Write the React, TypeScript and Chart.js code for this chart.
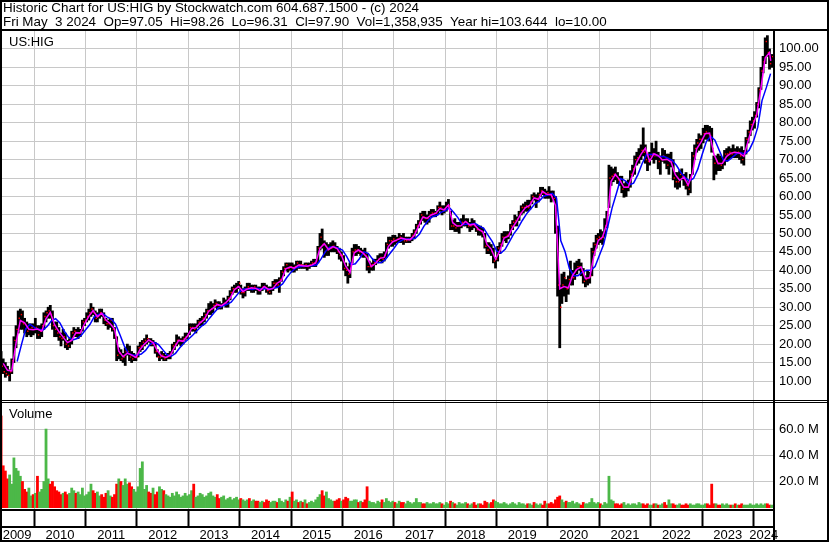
import React, { useEffect, useRef } from 'react';
import { Chart, registerables } from 'chart.js';

Chart.register(...registerables);

// ---------------- data ----------------
const seriesStart = 2009 + 4 / 12; // 1 May 2009
const axisEnd = 2024.4;
const lastDay = 2024.337; // Fri 3 May 2024

// half-month price ranges, May 2009 .. early May 2024
const halfMonthLow = [
  // 2009 May-Dec
  13, 12, 11, 11.5, 10, 12, 15, 19, 23, 24, 24, 23, 22, 22.5, 22, 22.5,
  // 2010
  23, 21.5, 21.5, 22, 24, 26, 27, 27, 24, 22, 22, 21, 19.5, 21, 19, 18.5, 19, 20, 22, 22, 21.5, 22, 23.5, 25,
  // 2011
  26, 26.5, 27.5, 28, 26, 26, 27, 27.5, 25.5, 25, 24, 24.5, 23.5, 21.5, 15.5, 16, 15.5, 15, 14.2, 17, 15.5, 15, 15.5, 15.5,
  // 2012
  16.5, 18, 18.5, 19.5, 20, 20.5, 19.5, 19.5, 17.5, 16.5, 15.5, 16, 15.5, 15.5, 16, 16, 17.5, 18.5, 19.5, 20, 19.5, 20, 21, 21.5,
  // 2013
  22.5, 23.5, 23.5, 23, 24.5, 25, 25, 26, 27, 28, 28, 28.5, 30, 29.5, 29.5, 29.5, 30.5, 30, 30, 32, 33.5, 34, 34, 35,
  // 2014
  33.5, 32.5, 33, 34.5, 34.5, 34, 34, 34.5, 33.5, 33.5, 34.5, 35, 34, 33.5, 33.5, 34.5, 35.5, 35.5, 34, 37, 38.5, 40, 39.5, 40,
  // 2015
  39.5, 39.5, 40, 40.5, 40.5, 40.5, 40.5, 40, 40.5, 41, 41, 41, 42, 45.5, 46, 43.5, 44, 44, 45, 45, 45, 44.5, 43, 42.5,
  // 2016
  40, 38.5, 36.5, 38, 42, 44, 44, 44.5, 44, 43.5, 43.5, 40, 39.3, 40, 40, 41.5, 42, 42.5, 42, 42.5, 43.5, 46, 46.5, 46.5,
  // 2017
  47, 47.5, 47.5, 47.5, 47, 47.5, 47.5, 47.5, 48, 48.5, 50, 51.5, 52.5, 53.5, 53, 52.5, 53, 54.5, 54.5, 54.5, 55, 56, 55, 55.5,
  // 2018
  56, 57, 51, 51, 50.5, 50.5, 50, 51.5, 52, 52, 51.5, 50.5, 51, 51.5, 50.5, 49.5, 49.5, 49, 46, 44.5, 44.5, 44, 42, 40.6,
  // 2019
  42.5, 44.5, 46.5, 48, 47.5, 48.5, 49.5, 51, 52, 52, 53.5, 55, 55.5, 56, 56, 56.5, 58, 59, 57, 58.5, 60, 60.5, 59.5, 59.5,
  // 2020
  59.5, 58.5, 59, 50, 33, 19, 31, 33, 31.5, 33.5, 36, 36, 37.5, 39, 40, 38.5, 36.5, 35.5, 36, 36.5, 38.5, 44, 46, 47,
  // 2021
  47.5, 47, 49, 51.5, 57, 63, 64, 64.5, 63.5, 63, 61, 59.8, 60, 61.5, 62.5, 65.5, 66, 68.5, 69, 70, 71, 69, 67, 68.5,
  // 2022
  70, 69, 70, 67.5, 66, 69.5, 69, 67.5, 66, 68, 64.5, 62.5, 62, 62.5, 64.5, 63, 62, 60.4, 61, 66, 70, 72, 72.5, 73,
  // 2023
  74.5, 75.5, 75.5, 75, 72, 64.5, 66, 67, 67, 67.5, 68.5, 69.5, 70, 70.5, 70.5, 70.5, 70.5, 70, 69, 68.5, 71.5, 74.5, 76.5, 78,
  // 2024 Jan-May
  78.5, 81.5, 84, 89, 93.5, 96, 98, 94.5, 95,
];

const halfMonthHigh = [
  // 2009 May-Dec
  18, 16, 15, 14, 13, 16, 22, 25, 29, 29.5, 29, 27, 26, 25.5, 25.5, 25.5,
  // 2010
  27, 25, 25, 25.5, 28.5, 29, 30, 30.5, 29, 26, 26, 24.5, 23, 24, 23, 21, 21.5, 23.5, 24.5, 24, 24.5, 24, 26.5, 27,
  // 2011
  28.5, 29.5, 31, 30, 29, 28.5, 29.5, 29.5, 28.5, 27, 26.5, 27, 27, 24.5, 22, 19, 18.5, 17.5, 19, 20, 19.5, 18, 17.5, 17,
  // 2012
  19.5, 20.5, 21, 21.5, 22.5, 21.5, 21.5, 21, 20.5, 18.5, 17.5, 18, 17.5, 17, 17.5, 18, 20, 20.5, 22.5, 22, 21.5, 22, 23, 23,
  // 2013
  25.5, 25.5, 25.5, 25.5, 26.5, 27, 27.5, 28.5, 29.5, 31, 31.5, 31, 32, 31.5, 31.5, 31, 32.5, 32, 33, 34.5, 35.5, 36, 36.5, 37,
  // 2014
  36, 35, 35.5, 36.5, 36.5, 36, 36, 36, 35.5, 35.5, 36.5, 36.5, 36, 35.5, 35.5, 37, 37.5, 37.5, 38, 40, 41, 42, 42, 42,
  // 2015
  42, 41.5, 42.5, 42.5, 42.5, 41.5, 42, 42, 42, 42.5, 43, 43, 46.5, 50, 51.2, 48, 47.5, 47, 47.5, 48, 47.5, 46.5, 46, 45,
  // 2016
  44, 42, 41, 42, 46, 47, 47, 46.5, 46, 45.5, 46, 44.5, 42.5, 42, 43, 43, 44, 44.5, 44.5, 45, 47.5, 49, 49, 49.5,
  // 2017
  49.5, 49, 50, 49.5, 50, 49, 49, 49, 50, 51, 52.5, 53.5, 55.5, 56, 56, 55, 56, 56.5, 56.5, 56, 57.5, 58.5, 57.5, 57.5,
  // 2018
  58.5, 59.2, 56, 53.5, 54, 53, 53, 54, 55, 54, 54, 53, 54, 53.5, 52.5, 52, 52, 51.5, 50, 47.5, 47.5, 47, 46, 43.5,
  // 2019
  46.5, 47.5, 50, 50.5, 50.5, 50.5, 52.5, 53.5, 55, 54.5, 56, 57.5, 58, 58.5, 59, 59, 60.5, 61, 60.5, 61, 62.5, 62.5, 62, 61.5,
  // 2020
  62.7, 61.5, 61.5, 60, 52, 36, 39, 39.5, 37.5, 38.5, 42.5, 40, 42, 42.5, 43, 42, 40.5, 38.5, 40, 39.5, 46, 47.5, 49.5, 50,
  // 2021
  51, 50.5, 54, 56, 68.5, 68, 67.5, 68, 66.5, 65.5, 65.5, 63.5, 64, 64.5, 67, 68.5, 71, 72, 73, 74, 78.6, 74, 71, 72,
  // 2022
  74.5, 73, 75, 72, 71, 73, 72.5, 71.5, 71.5, 72, 70, 66.5, 66.5, 67, 67.5, 66, 66.5, 64, 66, 72, 74, 75.5, 77, 76.5,
  // 2023
  78.5, 79.3, 79.3, 79, 78.5, 71, 71, 71.5, 71, 70.5, 72.5, 73, 73.5, 73, 74, 73, 73.5, 73, 73.5, 72.5, 76, 78, 80.5, 81.5,
  // 2024 Jan-May
  83, 85.5, 89.5, 95, 98, 103, 103.6, 100, 98.5,
];

// half-month closing prices (red close marks)
const halfMonthClose = [
  // 2009 May-Dec
  14, 12.5, 12, 11.5, 12.5, 15.5, 21, 24, 27, 28, 25.5, 24, 23.5, 24, 24.5, 24,
  // 2010
  24.5, 22.5, 23.5, 25, 27.5, 28.5, 29, 28, 25, 24, 23, 22, 21.5, 22, 20, 19.5, 21, 23, 23.5, 23, 23, 23.5, 26, 26.5,
  // 2011
  27.5, 28.5, 29.5, 28.5, 27, 27.5, 28.5, 28, 26.5, 25.5, 25.5, 26.5, 24, 22, 17, 17.5, 16, 16.5, 18, 18, 16.5, 16, 16.5, 16.5,
  // 2012
  19, 19.5, 20.5, 21, 21.5, 21, 20, 20, 18, 16.5, 16.5, 17, 16, 16.5, 17, 17.5, 19.5, 20, 21, 21, 21, 21.5, 22, 22.5,
  // 2013
  24.5, 24.5, 24, 25, 26, 26, 27, 28, 29, 29, 29.5, 30.5, 31, 30.5, 30, 30.5, 31, 31, 32.5, 34, 35, 35, 35.5, 36.5,
  // 2014
  34, 34, 35, 35.5, 35, 35, 35.5, 35, 34.5, 35, 35.5, 35, 34.5, 34, 35, 36.5, 36.5, 36, 37.5, 39.5, 40.5, 41.5, 40.5, 41,
  // 2015
  40.5, 41, 42, 41.5, 41.5, 41, 41.5, 41, 41.5, 42, 42, 42.5, 46, 49, 47, 45, 45.5, 46, 46, 46.5, 46, 45, 44, 44,
  // 2016
  40.5, 40, 39, 41.5, 45, 45.5, 45.5, 45, 45, 44.5, 44, 41, 41, 41.5, 42, 42.5, 43, 43.5, 43, 44, 47, 48, 48, 48.5,
  // 2017
  48, 48.5, 49, 48.5, 48, 48, 48.5, 48.5, 49.5, 50.5, 52, 53, 55, 54.5, 54, 54, 55, 55.5, 55.5, 55.5, 57, 57, 56, 56.5,
  // 2018
  57.5, 57.5, 52, 52, 51.5, 52, 52, 53, 53, 53, 52, 52, 52.5, 52, 51, 51, 50.5, 49.5, 46.5, 45.5, 46, 45, 42.5, 43,
  // 2019
  46, 47, 49, 49, 49.5, 50, 52, 53, 53.5, 54, 55.5, 57, 57, 57.5, 57, 58.5, 60, 59.5, 59.5, 60.5, 61.5, 61, 60.5, 61,
  // 2020
  60.5, 60, 59.5, 51, 36, 30, 36, 38, 35, 37.5, 38, 38, 40, 41, 41, 40, 37, 37.5, 38, 38.5, 45, 47, 48.5, 49,
  // 2021
  48.5, 49, 52, 55, 65, 65.5, 66, 65.5, 64.5, 64, 62, 62.5, 62.5, 63.5, 66, 67.5, 70, 70.5, 71, 72.5, 72, 70, 69.5, 71,
  // 2022
  71.5, 71, 71, 69.5, 70, 71, 70, 68.5, 69.5, 69.5, 65, 64, 64, 66, 65.5, 64.5, 63, 62, 65, 71, 73, 74.5, 75.5, 75.5,
  // 2023
  77, 77.5, 77, 76.5, 73, 69, 69.5, 69, 68.5, 69.5, 71.5, 71.5, 72, 71.5, 72, 71.5, 72, 71, 70, 71.5, 75.5, 77.5, 79.5, 80.5,
  // 2024 Jan-May
  82, 85, 89, 94, 96.5, 102, 99, 96, 97.9,
];

// half-month volume, millions of shares
const halfMonthVolumeM = [
  // 2009 May-Dec
  70, 32, 28, 22, 25, 18, 38, 30, 28, 24, 20, 14, 12, 15, 9, 10,
  // 2010
  11, 24, 12, 14, 20, 60, 22, 18, 20, 16, 13, 12, 10, 11, 12, 10, 11, 15, 13, 11, 12, 10, 15, 9,
  // 2011
  10, 12, 18, 13, 11, 12, 9, 10, 8, 11, 13, 9, 8, 10, 18, 22, 20, 17, 22, 18, 19, 16, 14, 12,
  // 2012
  16, 30, 35, 14, 17, 12, 11, 15, 10, 12, 16, 14, 13, 10, 9, 8, 11, 9, 12, 10, 8, 9, 11, 9,
  // 2013
  10, 13, 18, 8, 9, 11, 10, 8, 9, 11, 12, 9, 8, 10, 7, 8, 9, 6, 7, 8, 6, 7, 8, 6,
  // 2014
  7, 6, 5, 6, 7, 5, 6, 5, 5, 4, 5, 4, 6, 5, 4, 5, 5, 4, 7, 5, 4, 6, 5, 8,
  // 2015
  12, 5, 6, 4, 5, 4, 6, 3, 4, 5, 4, 6, 8, 10, 13, 9, 12, 7, 6, 5, 5, 6, 7, 5,
  // 2016
  6, 8, 7, 5, 5, 6, 6, 4, 5, 4, 6, 16, 5, 4, 4, 3, 5, 4, 6, 4, 7, 5, 4, 5,
  // 2017
  4, 3, 5, 4, 4, 3, 5, 4, 3, 4, 7, 4, 4, 3, 3, 4, 3, 3, 4, 3, 3, 4, 3, 2,
  // 2018
  4, 3, 5, 4, 3, 2, 4, 3, 3, 4, 3, 2, 3, 4, 2, 3, 3, 2, 5, 4, 3, 4, 6, 5,
  // 2019
  4, 3, 3, 4, 3, 2, 3, 4, 3, 2, 4, 3, 3, 2, 3, 3, 2, 4, 3, 2, 3, 2, 5, 3,
  // 2020
  3, 4, 3, 6, 8, 9, 6, 4, 5, 4, 4, 5, 3, 4, 3, 2, 4, 3, 3, 4, 7, 4, 3, 4,
  // 2021
  3, 2, 4, 3, 24, 6, 5, 3, 3, 2, 3, 4, 2, 3, 2, 3, 3, 2, 4, 3, 3, 2, 3, 2,
  // 2022
  2, 3, 3, 2, 2, 3, 4, 2, 6, 3, 3, 2, 2, 3, 2, 2, 3, 2, 3, 2, 2, 3, 3, 2,
  // 2023
  2, 3, 3, 2, 18, 3, 3, 2, 2, 3, 2, 3, 2, 2, 2, 3, 2, 2, 3, 2, 2, 2, 3, 2,
  // 2024 Jan-May
  2, 3, 2, 3, 2, 3, 3, 2, 2,
];

// magenta short moving average, one value per month (May 2009 .. May 2024)
const monthlyShortMA = [
  14.75, 12.9, 12.75, 20.25, 26.4, 25.75, 24, 23.9,
  24.1, 23.5, 26.9, 28.6, 25.25, 23.4, 21.9, 20.4, 21, 23.1, 23, 25.5,
  27.5, 29.1, 27.4, 28.4, 26.5, 25.5, 24.1, 18.1, 16.6, 17.55, 17, 16.4,
  18.6, 20, 21.1, 20.4, 18.25, 16.75, 16.4, 16.9, 19.1, 21, 20.75, 22.1,
  24.25, 24.4, 25.75, 26.75, 28.9, 29.75, 30.75, 30.4, 31.25, 32.4, 34.75, 35.6,
  34.25, 34.9, 35.25, 35.1, 34.5, 35.6, 34.75, 35.1, 36.5, 37.25, 40.4, 40.9,
  40.6, 41.4, 41.25, 41.1, 41.4, 42, 46, 47.2, 45.6, 46.4, 45.9, 44.1,
  41.1, 39.4, 44.75, 45.5, 44.75, 43.5, 41, 41.9, 43.25, 43.5, 46.5, 47.75,
  48.25, 48.75, 48.4, 48.25, 49.4, 51.9, 54.4, 54.1, 55, 55.4, 56.75, 56.4,
  57.7, 52.9, 52, 52.1, 53.25, 52.25, 52.5, 51.1, 50.5, 47, 45.75, 43,
  45.25, 48.75, 49.25, 51.6, 53.4, 55.5, 57, 57.6, 59.6, 59.25, 61.4, 60.6,
  60.5, 57.6, 35, 35.6, 35.25, 38.6, 40.25, 40.9, 37.75, 38, 44, 48.1,
  49, 52.6, 64.1, 66, 64.5, 62.5, 62.5, 65.9, 69.4, 71.5, 73.1, 69.6,
  71.6, 71.1, 69.9, 70.1, 69.4, 65.9, 64.4, 65.25, 63.1, 66.25, 72.9, 74.75,
  77, 77.2, 71.5, 68.9, 69, 70.9, 71.75, 72, 71.75, 70.9, 75, 79.1,
  82.1, 89.4, 97.6, 99, 96.75,
];

// blue long moving average, one value per month end (May 2009 .. Apr 2024)
const monthlyLongMA = [
  null, null, null, 15.3, 19.8, 24.1, 25.4, 24.55,
  24, 23.8, 24.8, 26.3, 26.9, 25.75, 23.5, 21.9, 21.1, 21.5, 22.4, 23.9,
  25.3, 27.4, 28, 28.3, 27.4, 26.8, 25.4, 22.6, 19.6, 17.4, 17.05, 17,
  17.3, 18.3, 19.9, 20.5, 19.9, 18.5, 17.1, 16.7, 17.5, 19, 20.3, 21.3,
  22.4, 23.6, 24.8, 25.6, 27.1, 28.5, 29.8, 30.3, 30.8, 31.35, 32.8, 34.25,
  34.9, 34.9, 34.8, 35.1, 34.95, 35.07, 34.95, 35.15, 35.45, 36.3, 38.05, 39.5,
  40.6, 40.97, 41.08, 41.25, 41.25, 41.5, 43.1, 45.07, 46.27, 46.4, 45.97, 45.47,
  43.7, 41.53, 41.75, 43.2, 45, 44.6, 43.1, 42.1, 42.05, 42.9, 44.4, 45.9,
  47.5, 48.25, 48.47, 48.47, 48.68, 49.85, 51.9, 53.47, 54.5, 54.83, 55.72, 56.18,
  56.95, 55.67, 54.2, 52.33, 52.45, 52.53, 52.67, 51.95, 51.37, 49.53, 47.75, 45.25,
  44.67, 45.67, 47.75, 49.87, 51.42, 53.5, 55.3, 56.7, 58.07, 58.82, 60.08, 60.42,
  60.83, 59.57, 48, 45, 40.5, 38.5, 38.5, 39.5, 40, 40, 41, 44,
  47, 52, 57, 60.9, 64.87, 64.33, 63.17, 63.63, 65.93, 68.93, 71.33, 71.4,
  71.43, 70.77, 70.87, 70.37, 69.8, 68.47, 66.57, 65.18, 64.25, 64.87, 67.42, 71.3,
  74.88, 76.32, 75.23, 72.53, 69.8, 69.6, 70.55, 71.55, 71.83, 71.55, 72.55, 75,
  78.73, 86, 89.5, 93.3,
];

const priceTicks = [10, 15, 20, 25, 30, 35, 40, 45, 50, 55, 60, 65, 70, 75, 80, 85, 90, 95, 100];
const volumeTicksM = [20, 40, 60];
const yearBoundaries = [2010, 2011, 2012, 2013, 2014, 2015, 2016, 2017, 2018, 2019, 2020, 2021, 2022, 2023, 2024];
const yearLabels = ['2009', '2010', '2011', '2012', '2013', '2014', '2015', '2016', '2017', '2018', '2019', '2020', '2021', '2022', '2023', '2024'];

const symbolLabel = 'US:HIG';
const volumeLabel = 'Volume';
const headerTitle = 'Historic Chart for US:HIG by Stockwatch.com 604.687.1500 - (c) 2024';
const headerQuote = 'Fri May  3 2024  Op=97.05  Hi=98.26  Lo=96.31  Cl=97.90  Vol=1,358,935  Year hi=103.644  lo=10.00';

// ---------------- chart ----------------
const FONT = "'Liberation Sans', Arial, sans-serif";
const GRID = '#c8c8c8';
const RED = '#ff0000';
const GREEN = '#4cb848';

export default function App() {
  const ref = useRef<HTMLCanvasElement | null>(null);

  useEffect(() => {
    document.body.style.margin = '0';
    const canvas = ref.current;
    if (!canvas) return;

    const halfTime = (i: number) => seriesStart + (i + 0.5) / 24;
    const priceData = halfMonthLow.map((lo, i) => ({ x: halfTime(i), y: [lo, halfMonthHigh[i]] }));
    const closeData = halfMonthClose.map((c, i) => ({ x: halfTime(i) + 0.5 / 24, y: c }));
    const volData = halfMonthVolumeM.map((v, i) => ({ x: halfTime(i), y: v }));
    const volColors = halfMonthClose.map((c, i) => {
      if (i === 0) return RED;
      return c >= halfMonthClose[i - 1] ? GREEN : RED;
    });
    const shortData = monthlyShortMA.map((v, k) => ({ x: Math.min(seriesStart + (k + 0.75) / 12, lastDay), y: v }));
    const longData = monthlyLongMA
      .map((v, k) => ({ x: Math.min(seriesStart + (k + 1) / 12, lastDay), y: v }))
      .filter((d) => d.y !== null);
    const yearMids = yearLabels.map((_, i) => {
      const a = i === 0 ? seriesStart : yearBoundaries[i - 1];
      const b = i < yearBoundaries.length ? yearBoundaries[i] : axisEnd;
      return (a + b) / 2;
    });

    const overlay = {
      id: 'overlay',
      afterDraw(chart: any) {
        const ctx = chart.ctx as CanvasRenderingContext2D;
        ctx.save();
        ctx.fillStyle = '#000';
        // outer frame
        ctx.fillRect(0, 0, 829, 2);
        ctx.fillRect(0, 540, 829, 2);
        ctx.fillRect(0, 0, 2, 542);
        ctx.fillRect(827, 0, 2, 542);
        // header separator
        ctx.fillRect(0, 29, 829, 2);
        // right axis separator
        ctx.fillRect(773, 29, 2, 513);
        // price / volume separator (double line)
        ctx.fillRect(0, 400, 829, 1);
        ctx.fillRect(0, 402, 829, 1);
        // date band lines
        ctx.fillRect(0, 509, 774, 2);
        ctx.fillRect(0, 526, 774, 2);
        // texts
        ctx.textBaseline = 'alphabetic';
        ctx.textAlign = 'left';
        ctx.font = `13.4px ${FONT}`;
        ctx.fillText(headerTitle, 3, 12);
        ctx.fillText(headerQuote, 3, 26);
        ctx.font = `13px ${FONT}`;
        ctx.fillText(symbolLabel, 9, 46);
        ctx.fillText(volumeLabel, 9, 418);
        ctx.restore();
      },
    };

    Chart.defaults.font.family = FONT;
    Chart.defaults.font.size = 13;
    Chart.defaults.color = '#000';

    const chart = new Chart(canvas, {
      type: 'bar',
      data: {
        datasets: [
          {
            type: 'line',
            label: 'short MA',
            data: shortData,
            xAxisID: 'x',
            yAxisID: 'y',
            borderColor: '#ff00ff',
            borderWidth: 1.5,
            pointRadius: 0,
            pointHoverRadius: 0,
            fill: false,
            order: 0,
          } as any,
          {
            type: 'line',
            label: 'long MA',
            data: longData,
            xAxisID: 'x',
            yAxisID: 'y',
            borderColor: '#0000ff',
            borderWidth: 1.5,
            pointRadius: 0,
            pointHoverRadius: 0,
            fill: false,
            order: 1,
          } as any,
          {
            type: 'line',
            label: 'close',
            data: closeData,
            xAxisID: 'x',
            yAxisID: 'y',
            showLine: false,
            pointStyle: 'rect',
            pointRadius: 1,
            pointHoverRadius: 1,
            pointBorderWidth: 0,
            pointBackgroundColor: RED,
            pointBorderColor: RED,
            order: 2,
          } as any,
          {
            type: 'bar',
            label: 'price',
            data: priceData,
            xAxisID: 'x',
            yAxisID: 'y',
            backgroundColor: '#000000',
            barPercentage: 1,
            categoryPercentage: 1,
            grouped: false,
            order: 3,
          } as any,
          {
            type: 'bar',
            label: 'volume',
            data: volData,
            xAxisID: 'x',
            yAxisID: 'yv',
            backgroundColor: volColors,
            barPercentage: 1,
            categoryPercentage: 1,
            grouped: false,
            order: 4,
          } as any,
        ],
      },
      options: {
        animation: false,
        responsive: false,
        devicePixelRatio: 1,
        events: [],
        layout: { autoPadding: false, padding: { top: 31, left: 0, right: 0, bottom: 0 } },
        plugins: { legend: { display: false }, tooltip: { enabled: false } },
        scales: {
          x: {
            type: 'linear',
            position: 'bottom',
            min: seriesStart,
            max: axisEnd,
            offset: false,
            grid: { color: GRID, lineWidth: 1, offset: false, drawTicks: true, tickLength: 18, tickColor: '#000', tickWidth: 2 },
            border: { display: false },
            ticks: { display: false },
            afterBuildTicks: (a: any) => { a.ticks = yearBoundaries.map((v) => ({ value: v })); },
            afterFit: (a: any) => { a.height = 18; },
          },
          x2: {
            type: 'linear',
            axis: 'x',
            position: 'bottom',
            min: seriesStart,
            max: axisEnd,
            offset: false,
            weight: 1,
            grid: { display: false, drawTicks: false, offset: false },
            border: { display: false },
            ticks: {
              color: '#000',
              font: { size: 13, family: FONT },
              padding: 1,
              autoSkip: false,
              maxRotation: 0,
              minRotation: 0,
              callback: (_v: any, i: number) => yearLabels[i],
            },
            afterBuildTicks: (a: any) => { a.ticks = yearMids.map((v) => ({ value: v })); },
            afterFit: (a: any) => { a.height = 16; },
          },
          y: {
            type: 'linear',
            position: 'right',
            stack: 'right',
            stackWeight: 370,
            min: 4.58,
            max: 104.85,
            grid: { color: GRID, lineWidth: 1, drawTicks: false },
            border: { display: false },
            ticks: {
              color: '#000',
              font: { size: 13, family: FONT },
              padding: 5,
              autoSkip: false,
              callback: (v: any) => Number(v).toFixed(2),
            },
            afterBuildTicks: (a: any) => { a.ticks = priceTicks.map((v) => ({ value: v })); },
            afterFit: (a: any) => { a.width = 56; },
          },
          yv: {
            type: 'linear',
            position: 'right',
            stack: 'right',
            stackWeight: 108,
            min: -1,
            max: 81.4,
            grid: { color: GRID, lineWidth: 1, drawTicks: false },
            border: { display: false },
            ticks: {
              color: '#000',
              font: { size: 13, family: FONT },
              padding: 5,
              autoSkip: false,
              callback: (v: any) => `${Number(v).toFixed(1)} M`,
            },
            afterBuildTicks: (a: any) => { a.ticks = volumeTicksM.map((v) => ({ value: v })); },
            afterFit: (a: any) => { a.width = 56; },
          },
        },
      } as any,
      plugins: [overlay],
    });

    return () => chart.destroy();
  }, []);

  return (
    <div style={{ width: 830, height: 543, background: '#fff' }}>
      <style>{'body{margin:0;background:#fff}'}</style>
      <canvas ref={ref} width={830} height={543} style={{ display: 'block' }} />
    </div>
  );
}
